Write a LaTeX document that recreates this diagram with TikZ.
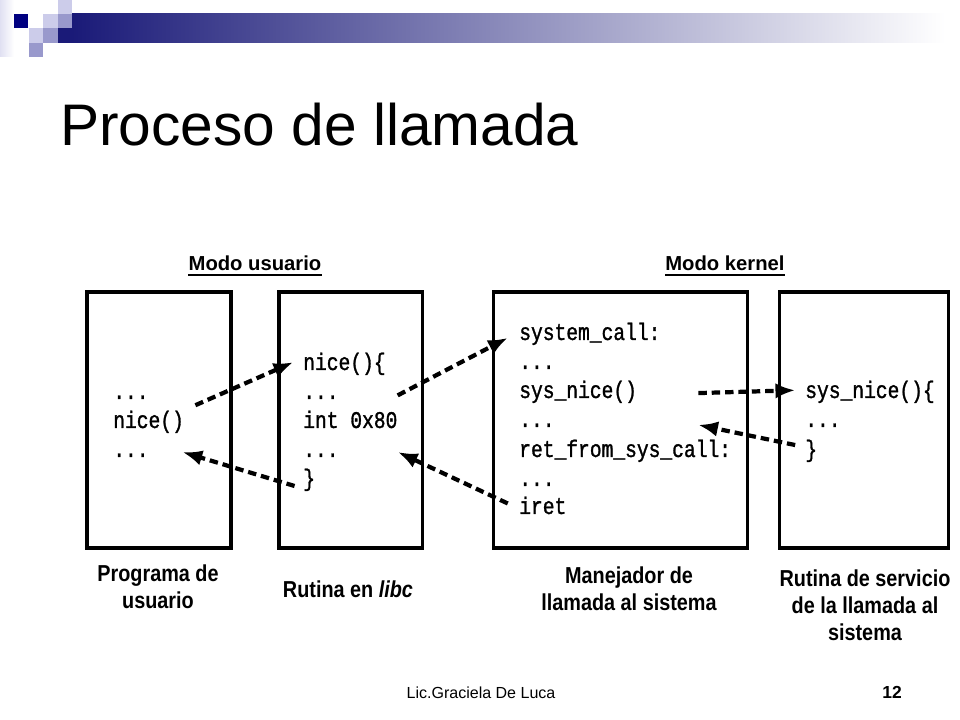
\documentclass[tikz,border=0pt]{standalone}
\usepackage{fontspec}
\setmainfont{Liberation Sans}
\newfontfamily\codefont[FakeStretch=0.82,FakeBold=1.2]{Liberation Mono}
\newfontfamily\labelfont[FakeStretch=0.86]{Liberation Sans}
\usetikzlibrary{positioning,arrows.meta}

\definecolor{navy}{RGB}{0,0,128}
\definecolor{barleft}{RGB}{26,26,120}
\definecolor{barmid}{RGB}{165,165,190}
\definecolor{lilac}{RGB}{204,204,234}
\definecolor{midlilac}{RGB}{153,153,204}

\begin{document}
\begin{tikzpicture}[x=0.025cm,y=-0.025cm,
		panel/.style={draw,line width=2.2pt,minimum height=6.4cm,inner sep=0pt,outer sep=0pt},
		code/.style={font=\codefont\fontsize{17}{19}\selectfont,anchor=base west,inner sep=0pt,text height=10pt,text depth=3pt},
		head/.style={font=\bfseries\fontsize{14.4}{16}\selectfont,anchor=base,inner sep=0pt},
		caption/.style={font=\labelfont\bfseries\fontsize{16.4}{19.2}\selectfont,align=center,anchor=north,inner sep=0pt},
		call/.style={line width=3pt,dash pattern=on 6pt off 3.5pt,-{Latex[length=14pt,width=11pt]}}]
	\useasboundingbox (0,0) rectangle (960,720);

	% slide decoration
	\shade[left color=lilac!60,right color=white] (0,0) rectangle (14,57);
	\shade[left color=barleft,middle color=barmid,right color=white] (72,14) rectangle (945,43);
	\fill[navy] (14,14) rectangle (28,28);
	\fill[lilac] (43,14) rectangle (58,28);
	\fill[lilac] (29,28) rectangle (43,43);
	\fill[midlilac] (43,28) rectangle (58,43);
	\fill[midlilac] (29,43) rectangle (43,57);
	\fill[lilac] (58,0) rectangle (72,14);
	\fill[midlilac] (58,14) rectangle (72,28);
	\fill[barleft] (58,28) rectangle (72,43);

	\node[font=\fontsize{41.7}{48}\selectfont,anchor=base west,inner sep=0pt] (title) at (60,146) {Proceso de llamada};

	% modes
	\node[head] (hUser) at (255,271) {Modo usuario};
	\node[head] (hKernel) at (725,271) {Modo kernel};
	\draw[line width=1.4pt] ([yshift=-2.6pt]hUser.base west) -- ([yshift=-2.6pt]hUser.base east);
	\draw[line width=1.4pt] ([yshift=-2.6pt]hKernel.base west) -- ([yshift=-2.6pt]hKernel.base east);

	% boxes
	\node[panel,minimum width=3.6cm] (bUser) at (159,420) {};
	\node[panel,minimum width=3.575cm,right=1.2cm of bUser] (bLibc) {};
	\node[panel,minimum width=6.35cm,right=1.775cm of bLibc] (bHandler) {};
	\node[panel,minimum width=4.225cm,right=0.8cm of bHandler] (bService) {};

	% user program
	\node[code] (uDotsA) at (113,399) {...};
	\node[code] (uCall) at (113,428) {nice()};
	\node[code] (uDotsB) at (113,457) {...};

	% libc
	\node[code] (lNice) at (303,370) {nice()\{};
	\node[code] (lDotsA) at (303,399) {...};
	\node[code] (lInt) at (303,428) {int 0x80};
	\node[code] (lDotsB) at (303,457) {...};
	\node[code] (lEnd) at (303,486) {\}};

	% handler
	\node[code] (kCall) at (519,340) {system\textunderscore call:};
	\node[code] (kDotsA) at (519,369) {...};
	\node[code] (kNice) at (519,398) {sys\textunderscore nice()};
	\node[code] (kDotsB) at (519,427) {...};
	\node[code] (kRet) at (519,457) {ret\textunderscore from\textunderscore sys\textunderscore call:};
	\node[code] (kDotsC) at (519,486) {...};
	\node[code] (kIret) at (519,514) {iret};

	% service routine
	\node[code] (sNice) at (805,398) {sys\textunderscore nice()\{};
	\node[code] (sDots) at (805,427) {...};
	\node[code] (sEnd) at (805,457) {\}};

	\draw[call] ([xshift=8pt,yshift=6pt]uCall.north east) -- ([xshift=-7pt,yshift=2pt]lNice.west);
	\draw[call] ([xshift=-6pt,yshift=-3.5pt]lEnd.west) -- ([xshift=24pt]uDotsB.east);
	\draw[call] ([yshift=13pt]lInt.north east) -- ([xshift=-8pt,yshift=-2pt]kCall.west);
	\draw[call] ([xshift=-8pt,yshift=4pt]kIret.west) -- ([xshift=42pt]lDotsB.east);
	\draw[call] ([xshift=43.5pt]kNice.east) -- ([xshift=-7pt,yshift=2pt]sNice.west);
	\draw[call] ([xshift=-7pt,yshift=5pt]sEnd.west) -- ([xshift=102pt,yshift=-2pt]kDotsB.east);

	% captions
	\node[caption] (cUser) at (158,565) {Programa de\\usuario};
	\node[caption] (cLibc) at (348,581) {Rutina en \textit{libc}};
	\node[caption] (cHandler) at (629,567) {Manejador de\\llamada al sistema};
	\node[caption] (cService) at (865,570) {Rutina de servicio\\de la llamada al\\sistema};

	% footer
	\node[font=\fontsize{11.4}{13}\selectfont,anchor=base,inner sep=0pt] (author) at (481,698) {Lic.Graciela De Luca};
	\node[font=\bfseries\fontsize{12.4}{14}\selectfont,anchor=base,inner sep=0pt] (page) at (892,698) {12};
\end{tikzpicture}
\end{document}
